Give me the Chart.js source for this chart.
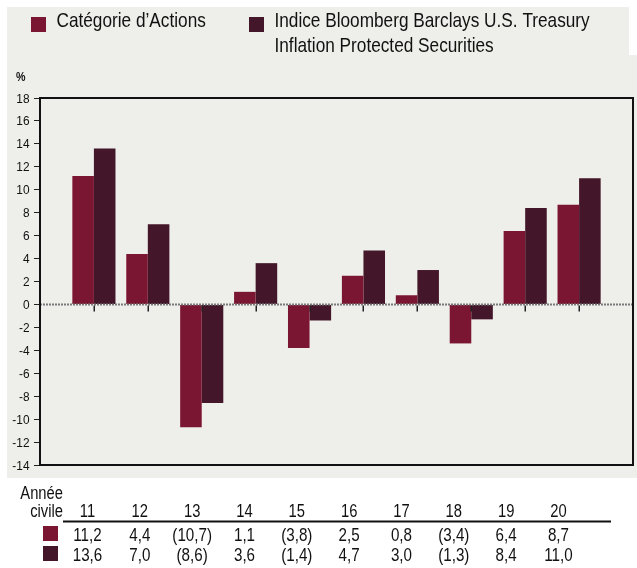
<!DOCTYPE html>
<html><head><meta charset="utf-8">
<script src="https://cdn.jsdelivr.net/npm/chart.js@4.4.1/dist/chart.umd.min.js"></script>
<style>
html,body{margin:0;padding:0;background:#fff;overflow:hidden}
canvas{display:block}
</style></head>
<body>
<canvas id="c" width="637" height="568"></canvas>
<script>
// ---- data ----
const categories = ['11','12','13','14','15','16','17','18','19','20'];
const seriesNames = ['Catégorie d’Actions', 'Indice Bloomberg Barclays U.S. Treasury Inflation Protected Securities'];
const legendLines = [['Catégorie d’Actions'], ['Indice Bloomberg Barclays U.S. Treasury', 'Inflation Protected Securities']];
const equityCategory = [11.2, 4.4, -10.7, 1.1, -3.8, 2.5, 0.8, -3.4, 6.4, 8.7];
const tipsIndex = [13.6, 7.0, -8.6, 3.6, -1.4, 4.7, 3.0, -1.3, 8.4, 11.0];
const yMin = -14, yMax = 18, yStep = 2;
const yAxisTitle = '%';
const tableHeader = ['Année', 'civile'];

const colors = ['#7b1632', '#431729'];
const FONT = '"Liberation Sans", Arial, Helvetica, sans-serif';
const NARROW = 0.82;

function fmt(v) {
  const s = Math.abs(v).toFixed(1).replace('.', ',');
  return v < 0 ? '(' + s + ')' : s;
}

// draw text, optionally condensed (emulating a narrow sans-serif)
function nText(ctx, text, x, y, align, size, weight, squeeze) {
  ctx.save();
  ctx.font = (weight ? weight + ' ' : '') + size + 'px ' + FONT;
  ctx.textAlign = align;
  ctx.textBaseline = 'alphabetic';
  ctx.translate(x, y);
  ctx.scale(squeeze === undefined ? NARROW : squeeze, 1);
  ctx.fillText(text, 0, 0);
  ctx.restore();
}

const labels = [''].concat(categories, ['']);
const pad = a => [null].concat(a, [null]);

const bgPlugin = {
  id: 'bg',
  beforeDraw(chart) {
    const ctx = chart.ctx;
    ctx.save();
    ctx.fillStyle = '#fff';
    ctx.fillRect(0, 0, chart.width, chart.height);
    ctx.fillStyle = '#eeeeea';
    ctx.beginPath();
    ctx.moveTo(7, 7); ctx.lineTo(629, 7); ctx.lineTo(629, 55); ctx.lineTo(637, 55);
    ctx.lineTo(637, 478); ctx.lineTo(7, 478); ctx.closePath();
    ctx.fill();
    ctx.restore();
  }
};

const decoPlugin = {
  id: 'deco',
  afterDatasetsDraw(chart) {
    const ctx = chart.ctx;
    const a = chart.chartArea;
    const ys = chart.scales.y, xs = chart.scales.x;
    const y0 = ys.getPixelForValue(0);
    ctx.save();
    ctx.strokeStyle = '#7a7a7a';
    ctx.lineWidth = 2;
    ctx.setLineDash([2, 1]);
    ctx.beginPath(); ctx.moveTo(a.left, y0); ctx.lineTo(a.right, y0); ctx.stroke();
    ctx.setLineDash([]);
    ctx.strokeStyle = '#222';
    ctx.lineWidth = 1.5;
    for (let i = 1; i <= categories.length; i++) {
      const x = Math.round(xs.getPixelForValue(i)) + 0.25;
      ctx.beginPath(); ctx.moveTo(x, y0 + 1); ctx.lineTo(x, y0 + 7); ctx.stroke();
    }
    ctx.strokeStyle = '#111';
    ctx.lineWidth = 2;
    ctx.strokeRect(a.left, a.top, a.right - a.left, a.bottom - a.top);
    ctx.restore();
  },
  afterDraw(chart) {
    const ctx = chart.ctx;
    const ys = chart.scales.y;
    ctx.save();
    ctx.fillStyle = '#111';
    // y tick labels from the library's scale
    ys.ticks.forEach(t => {
      nText(ctx, String(t.value), ys.right - 10.5, ys.getPixelForValue(t.value) + 4.5, 'right', 12.5, '', 0.95);
    });
    // legend
    const legX = [31, 249];
    legendLines.forEach((lines, k) => {
      ctx.fillStyle = colors[k];
      ctx.fillRect(legX[k], 17, 15, 15);
      ctx.fillStyle = '#111';
      lines.forEach((t, j) => nText(ctx, t, legX[k] + 25.5, 27 + j * 25, 'left', 21));
    });
    nText(ctx, yAxisTitle, 16, 81, 'left', 13, 'bold');
    // table
    nText(ctx, tableHeader[0], 63, 499, 'right', 18);
    nText(ctx, tableHeader[1], 63, 517, 'right', 18);
    const colX = i => 87.5 + i * 52.33;
    categories.forEach((c, i) => nText(ctx, c, colX(i), 517, 'center', 18));
    ctx.strokeStyle = '#111';
    ctx.lineWidth = 2;
    ctx.beginPath(); ctx.moveTo(63, 521.5); ctx.lineTo(611, 521.5); ctx.stroke();
    [equityCategory, tipsIndex].forEach((arr, r) => {
      ctx.fillStyle = colors[r];
      ctx.fillRect(43, 526 + r * 20, 15, 15);
      ctx.fillStyle = '#111';
      arr.forEach((v, i) => nText(ctx, fmt(v), colX(i), 541 + r * 20, 'center', 18.5));
    });
    ctx.restore();
  }
};

new Chart(document.getElementById('c'), {
  type: 'bar',
  data: {
    labels: labels,
    datasets: [
      { label: seriesNames[0], data: pad(equityCategory), backgroundColor: colors[0] },
      { label: seriesNames[1], data: pad(tipsIndex), backgroundColor: colors[1] }
    ]
  },
  options: {
    responsive: false,
    devicePixelRatio: 1,
    animation: false,
    layout: { padding: { left: 0, top: 98, right: 4, bottom: 103 } },
    datasets: { bar: { categoryPercentage: 0.8, barPercentage: 1.0 } },
    plugins: { legend: { display: false }, tooltip: { enabled: false } },
    scales: {
      x: { display: false, offset: false, grid: { display: false } },
      y: {
        min: yMin, max: yMax,
        afterFit(s) { s.width = 40; },
        border: { display: false },
        grid: { drawOnChartArea: false, drawTicks: true, tickLength: 6, color: '#222', lineWidth: 1 },
        ticks: { stepSize: yStep, padding: 4, color: 'rgba(0,0,0,0)', font: { family: FONT, size: 13 } }
      }
    }
  },
  plugins: [bgPlugin, decoPlugin]
});
</script>
</body></html>
